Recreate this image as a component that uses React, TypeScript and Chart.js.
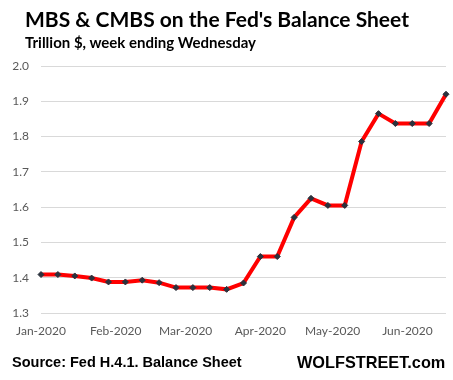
import React, { useEffect, useRef } from "react";
import { Chart, registerables } from "chart.js";

Chart.register(...registerables);

const weekDates = [
  "2020-01-01", "2020-01-08", "2020-01-15", "2020-01-22", "2020-01-29",
  "2020-02-05", "2020-02-12", "2020-02-19", "2020-02-26",
  "2020-03-04", "2020-03-11", "2020-03-18", "2020-03-25",
  "2020-04-01", "2020-04-08", "2020-04-15", "2020-04-22", "2020-04-29",
  "2020-05-06", "2020-05-13", "2020-05-20", "2020-05-27",
  "2020-06-03", "2020-06-10", "2020-06-17",
];

const mbsValues = [
  1.409, 1.409, 1.405, 1.399, 1.388,
  1.388, 1.393, 1.386, 1.372,
  1.372, 1.372, 1.367, 1.385,
  1.46, 1.46, 1.571, 1.625, 1.605,
  1.605, 1.786, 1.865, 1.837,
  1.837, 1.837, 1.92,
];

const monthStarts = ["2020-01-01", "2020-02-01", "2020-03-01", "2020-04-01", "2020-05-01", "2020-06-01"];
const monthLabels = ["Jan-2020", "Feb-2020", "Mar-2020", "Apr-2020", "May-2020", "Jun-2020"];

const yMin = 1.3;
const yMax = 2.0;
const yStep = 0.1;

const DAY = 86400000;
const origin = Date.parse(weekDates[0]);
const toDay = (d: string) => Math.round((Date.parse(d) - origin) / DAY);

export default function App() {
  const ref = useRef<HTMLCanvasElement | null>(null);

  useEffect(() => {
    document.body.style.margin = "0";
    const ctx = ref.current!;
    const points = weekDates.map((d, i) => ({ x: toDay(d), y: mbsValues[i] }));
    const tickDays = monthStarts.map(toDay);
    const chart = new Chart(ctx, {
      type: "line",
      data: {
        datasets: [
          {
            data: points,
            borderColor: "#ff0000",
            borderWidth: 4,
            pointStyle: "rectRot",
            pointRadius: 3,
            pointBackgroundColor: "#2b323d",
            pointBorderColor: "#2b323d",
            pointBorderWidth: 1,
            tension: 0,
            clip: false,
          },
        ],
      },
      options: {
        animation: false,
        responsive: false,
        maintainAspectRatio: false,
        layout: { padding: { left: 0, right: 7, top: 66, bottom: 42 } },
        plugins: { legend: { display: false }, tooltip: { enabled: false } },
        scales: {
          x: {
            type: "linear",
            min: 0,
            max: toDay(weekDates[weekDates.length - 1]),
            grid: { display: false },
            border: { display: false },
            afterBuildTicks: (axis: any) => {
              axis.ticks = tickDays.map((v) => ({ value: v }));
            },
            afterFit: (axis: any) => {
              axis.height = 25;
            },
            ticks: {
              autoSkip: false,
              maxRotation: 0,
              padding: 3,
              color: "#595959",
              font: { family: "Lato", size: 12 },
              callback: (v: any) => {
                const i = tickDays.indexOf(Number(v));
                return i >= 0 ? monthLabels[i] : "";
              },
            },
          },
          y: {
            min: yMin,
            max: yMax,
            grid: { color: "#d9d9d9", lineWidth: 1, drawTicks: false },
            border: { display: false },
            afterFit: (axis: any) => {
              axis.width = 41;
            },
            ticks: {
              stepSize: yStep,
              padding: 12,
              color: "#595959",
              font: { family: "Lato", size: 12 },
              callback: (v: any) => Number(v).toFixed(1),
            },
          },
        },
      },
    });
    return () => chart.destroy();
  }, []);

  return (
    <div style={{ position: "relative", width: 453, height: 380, background: "#fff" }}>
      <canvas ref={ref} width={453} height={380} style={{ position: "absolute", left: 0, top: 0 }} />
      <div style={{ position: "absolute", left: 25, top: 8, font: "bold 21px Lato", lineHeight: "21px", color: "#000", whiteSpace: "nowrap" }}>
        MBS &amp; CMBS on the Fed's Balance Sheet
      </div>
      <div style={{ position: "absolute", left: 25, top: 35, font: "bold 15px Lato", lineHeight: "15px", color: "#000", whiteSpace: "nowrap" }}>
        Trillion $, week ending Wednesday
      </div>
      <div style={{ position: "absolute", left: 12, top: 353.5, font: "bold 14.5px 'Liberation Sans'", lineHeight: "17px", color: "#000", whiteSpace: "nowrap" }}>
        Source: Fed H.4.1. Balance Sheet
      </div>
      <div style={{ position: "absolute", left: 297, top: 351.5, font: "bold 16.3px 'Liberation Sans'", lineHeight: "20px", color: "#000", whiteSpace: "nowrap" }}>
        WOLFSTREET.com
      </div>
    </div>
  );
}
